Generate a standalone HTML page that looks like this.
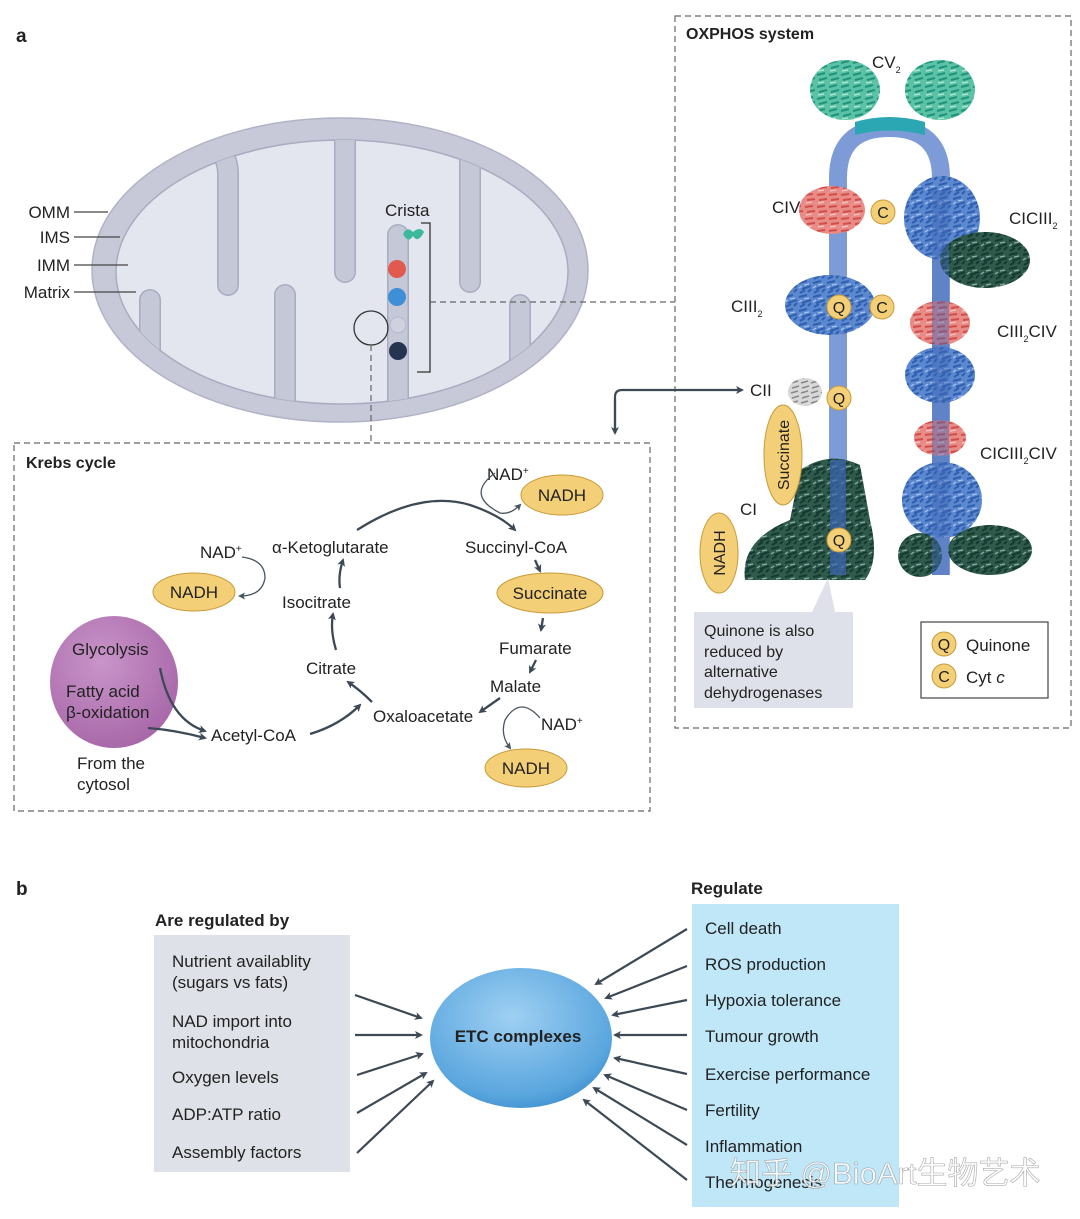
<!DOCTYPE html>
<html><head><meta charset="utf-8"><style>
html,body{margin:0;padding:0;background:#fff}
svg{display:block}
text{font-family:"Liberation Sans","Noto Sans CJK SC",sans-serif;fill:#222}
</style></head><body>
<svg width="1080" height="1219" viewBox="0 0 1080 1219" xmlns="http://www.w3.org/2000/svg">
<defs>
<marker id="ah" markerWidth="8" markerHeight="8" refX="6" refY="4" orient="auto" markerUnits="userSpaceOnUse"><path d="M0,0 L8,4 L0,8 L2,4Z" fill="#3d4a56"/></marker>
<marker id="ahs" markerWidth="7" markerHeight="7" refX="5" refY="3.5" orient="auto" markerUnits="userSpaceOnUse"><path d="M0,0 L7,3.5 L0,7 L1.5,3.5Z" fill="#4a5560"/></marker>
<pattern id="pb" width="14" height="14" patternUnits="userSpaceOnUse"><rect width="14" height="14" fill="#5b88cf"/><path d="M1,3 L9,1 M4,9 L13,6 M2,13 L7,10 M10,12 L13,9" stroke="#2f5fae" stroke-width="2"/><path d="M6,5 L11,4 M1,8 L4,6" stroke="#a8c3ec" stroke-width="1.3"/></pattern>
<pattern id="pg" width="14" height="14" patternUnits="userSpaceOnUse"><rect width="14" height="14" fill="#2f5a4c"/><path d="M1,3 L9,1 M4,9 L13,6 M2,13 L7,10 M10,12 L13,9" stroke="#153a30" stroke-width="2"/><path d="M6,5 L11,4 M1,8 L4,6" stroke="#8fb0a6" stroke-width="1.2"/></pattern>
<pattern id="pr" width="12" height="12" patternUnits="userSpaceOnUse"><rect width="12" height="12" fill="#e98b86"/><path d="M1,3 L9,2 M3,8 L11,7" stroke="#d24e4a" stroke-width="2"/><path d="M2,11 L8,10" stroke="#f6c6c2" stroke-width="1.2"/></pattern>
<pattern id="pt" width="12" height="12" patternUnits="userSpaceOnUse"><rect width="12" height="12" fill="#5cc2a6"/><path d="M1,3 L9,1 M3,8 L11,6" stroke="#1f937a" stroke-width="2"/><path d="M2,11 L8,10" stroke="#b6e8da" stroke-width="1.2"/></pattern>
<pattern id="pw" width="10" height="10" patternUnits="userSpaceOnUse"><rect width="10" height="10" fill="#d8d8d8"/><path d="M1,3 L8,1 M2,8 L9,6" stroke="#888" stroke-width="1.5"/></pattern>
<radialGradient id="etc" cx="0.45" cy="0.35" r="0.7"><stop offset="0" stop-color="#9fd0f3"/><stop offset="0.8" stop-color="#5aa6de"/><stop offset="1" stop-color="#3d8fcf"/></radialGradient>
<radialGradient id="pur" cx="0.4" cy="0.35" r="0.7"><stop offset="0" stop-color="#c995c9"/><stop offset="1" stop-color="#a766a8"/></radialGradient>
<clipPath id="mclip"><ellipse cx="342" cy="272" rx="226" ry="132"/></clipPath>
</defs>

<text x="16" y="42" font-size="19" font-weight="bold">a</text>
<text x="16" y="895" font-size="19" font-weight="bold">b</text>

<!-- Mitochondrion -->
<ellipse cx="340" cy="270" rx="248" ry="152" fill="#c7c9d8" stroke="#b0b3c6" stroke-width="1.5"/>
<ellipse cx="342" cy="272" rx="226" ry="132" fill="#e3e5ef" stroke="#a9acc0" stroke-width="1.5"/>
<g clip-path="url(#mclip)" fill="none" stroke-linecap="round">
<g stroke="#a9acc0" stroke-width="22">
<path d="M110,150 L210,150 Q228,150 228,175 L228,285"/>
<path d="M310,130 L345,130 L345,272"/>
<path d="M430,130 L470,130 L470,282"/>
<path d="M150,420 L150,300"/>
<path d="M285,420 L285,295"/>
<path d="M398,420 L398,235"/>
<path d="M520,420 L520,305"/>
</g>
<g stroke="#c5c8d7" stroke-width="19">
<path d="M110,150 L210,150 Q228,150 228,175 L228,285"/>
<path d="M310,130 L345,130 L345,272"/>
<path d="M430,130 L470,130 L470,282"/>
<path d="M150,420 L150,300"/>
<path d="M285,420 L285,295"/>
<path d="M398,420 L398,235"/>
<path d="M520,420 L520,305"/>
</g>
</g>
<path d="M403,234 Q408,244 413,236 Q418,244 424,232 Q420,226 413,232 Q407,226 403,234Z" fill="#3cb99c"/>
<circle cx="397" cy="269" r="9" fill="#e05a50"/>
<circle cx="397" cy="297" r="9" fill="#3f8fd6"/>
<circle cx="398" cy="325" r="8" fill="#cfd2de" stroke="#b5b8c8"/>
<circle cx="398" cy="351" r="9" fill="#253450"/>
<circle cx="371" cy="328" r="17" fill="none" stroke="#333" stroke-width="1.3"/>
<path d="M421,223 L430,223 L430,372 L417,372" fill="none" stroke="#333" stroke-width="1.3"/>
<text x="385" y="216" font-size="17">Crista</text>
<g font-size="17" text-anchor="end"><text x="70" y="218">OMM</text><text x="70" y="243">IMS</text><text x="70" y="271">IMM</text><text x="70" y="298">Matrix</text></g>
<g stroke="#444" stroke-width="1.2"><line x1="74" y1="212" x2="108" y2="212"/><line x1="74" y1="237" x2="120" y2="237"/><line x1="74" y1="265" x2="128" y2="265"/><line x1="74" y1="292" x2="136" y2="292"/></g>
<g stroke="#666" stroke-width="1.2" stroke-dasharray="6,4" fill="none">
<line x1="430" y1="302" x2="675" y2="302"/>
<line x1="371" y1="345" x2="371" y2="443"/>
<rect x="14" y="443" width="636" height="368"/>
<rect x="675" y="16" width="396" height="712"/>
</g>
<path d="M615,433 L615,397 Q615,390 622,390 L742,390" fill="none" stroke="#3d4a56" stroke-width="2.2" marker-end="url(#ah)"/>
<path d="M615,400 L615,433" stroke="#3d4a56" stroke-width="2.2" marker-end="url(#ah)"/>

<!-- OXPHOS -->
<text x="686" y="39" font-size="16" font-weight="bold">OXPHOS system</text>
<path d="M838,575 L838,178 Q838,128 889,128 Q941,128 941,178 L941,575" fill="none" stroke="#7d9bd6" stroke-width="18"/>
<ellipse cx="845" cy="90" rx="35" ry="30" fill="url(#pt)"/>
<ellipse cx="940" cy="90" rx="35" ry="30" fill="url(#pt)"/>
<path d="M855,122 Q889,112 925,122 L925,135 Q889,126 855,135Z" fill="#2aa7b3"/>
<text x="872" y="68" font-size="17">CV<tspan font-size="9" dy="5">2</tspan></text>
<ellipse cx="832" cy="210" rx="33" ry="24" fill="url(#pr)"/>
<text x="772" y="213" font-size="17">CIV</text>
<ellipse cx="830" cy="305" rx="45" ry="30" fill="url(#pb)"/>
<text x="731" y="312" font-size="17">CIII<tspan font-size="9" dy="5">2</tspan></text>
<ellipse cx="805" cy="392" rx="17" ry="14" fill="url(#pw)"/>
<text x="750" y="396" font-size="17">CII</text>
<path d="M800,470 Q830,450 860,465 L870,520 Q880,560 865,580 L745,580 Q740,540 790,520Z" fill="url(#pg)"/>
<rect x="830" y="460" width="16" height="115" fill="#3d67b6" opacity="0.7"/>
<text x="740" y="515" font-size="17">CI</text>
<ellipse cx="942" cy="218" rx="38" ry="42" fill="url(#pb)"/>
<ellipse cx="985" cy="260" rx="45" ry="28" fill="url(#pg)"/>
<ellipse cx="940" cy="323" rx="30" ry="22" fill="url(#pr)"/>
<ellipse cx="940" cy="375" rx="35" ry="28" fill="url(#pb)"/>
<ellipse cx="940" cy="438" rx="26" ry="18" fill="url(#pr)"/>
<ellipse cx="942" cy="500" rx="40" ry="38" fill="url(#pb)"/>
<ellipse cx="990" cy="550" rx="42" ry="25" fill="url(#pg)"/>
<ellipse cx="920" cy="555" rx="22" ry="22" fill="url(#pg)"/>
<rect x="932" y="190" width="17" height="385" fill="#3d67b6" opacity="0.45"/>
<text x="1009" y="224" font-size="17">CICIII<tspan font-size="9" dy="5">2</tspan></text>
<text x="997" y="337" font-size="17">CIII<tspan font-size="9" dy="5">2</tspan><tspan dy="-5">CIV</tspan></text>
<text x="980" y="459" font-size="17">CICIII<tspan font-size="9" dy="5">2</tspan><tspan dy="-5">CIV</tspan></text>
<g fill="#f3cf78" stroke="#c99a3a" stroke-width="1">
<circle cx="883" cy="212" r="12"/><circle cx="839" cy="307" r="12"/><circle cx="882" cy="307" r="12"/><circle cx="839" cy="398" r="12"/><circle cx="839" cy="540" r="12"/>
<ellipse cx="783" cy="455" rx="19" ry="50"/><ellipse cx="719" cy="553" rx="19" ry="40"/>
</g>
<g font-size="16" text-anchor="middle"><text x="883" y="218">C</text><text x="839" y="313">Q</text><text x="882" y="313">C</text><text x="839" y="404">Q</text><text x="839" y="546">Q</text></g>
<text transform="translate(789,455) rotate(-90)" font-size="16" text-anchor="middle">Succinate</text>
<text transform="translate(725,553) rotate(-90)" font-size="16" text-anchor="middle">NADH</text>
<path d="M694,612 L812,612 L828,578 L835,612 L853,612 L853,708 L694,708Z" fill="#dfe1ea"/>
<g font-size="16"><text x="704" y="636">Quinone is also</text><text x="704" y="657">reduced by</text><text x="704" y="677">alternative</text><text x="704" y="698">dehydrogenases</text></g>
<rect x="921" y="622" width="127" height="76" fill="#fff" stroke="#444" stroke-width="1.2"/>
<circle cx="944" cy="644" r="12" fill="#f3cf78" stroke="#c99a3a"/><circle cx="944" cy="676" r="12" fill="#f3cf78" stroke="#c99a3a"/>
<text x="944" y="650" font-size="16" text-anchor="middle">Q</text><text x="944" y="682" font-size="16" text-anchor="middle">C</text>
<text x="966" y="651" font-size="17">Quinone</text><text x="966" y="683" font-size="17">Cyt <tspan font-style="italic">c</tspan></text>

<!-- Krebs cycle -->
<text x="26" y="468" font-size="16" font-weight="bold">Krebs cycle</text>
<ellipse cx="114" cy="682" rx="64" ry="66" fill="url(#pur)"/>
<g font-size="17">
<text x="72" y="655">Glycolysis</text><text x="66" y="697">Fatty acid</text><text x="66" y="718">β-oxidation</text>
<text x="77" y="769">From the</text><text x="77" y="790">cytosol</text>
<text x="211" y="741">Acetyl-CoA</text><text x="306" y="674">Citrate</text><text x="282" y="608">Isocitrate</text>
<text x="272" y="553">α-Ketoglutarate</text><text x="465" y="553">Succinyl-CoA</text>
<text x="499" y="654">Fumarate</text><text x="490" y="692">Malate</text><text x="373" y="722">Oxaloacetate</text>
<text x="200" y="558">NAD<tspan font-size="10" dy="-6">+</tspan></text>
<text x="487" y="480">NAD<tspan font-size="10" dy="-6">+</tspan></text>
<text x="541" y="730">NAD<tspan font-size="10" dy="-6">+</tspan></text>
</g>
<g fill="#f3cf78" stroke="#c99a3a" stroke-width="1">
<ellipse cx="194" cy="592" rx="41" ry="19"/><ellipse cx="562" cy="495" rx="41" ry="20"/><ellipse cx="550" cy="593" rx="53" ry="20"/><ellipse cx="526" cy="768" rx="41" ry="19"/>
</g>
<g font-size="17" text-anchor="middle"><text x="194" y="598">NADH</text><text x="562" y="501">NADH</text><text x="550" y="599">Succinate</text><text x="526" y="774">NADH</text></g>
<g fill="none" stroke="#3d4a56" stroke-width="2.3">
<path d="M160,668 Q170,720 205,731" marker-end="url(#ah)"/>
<path d="M148,728 Q175,730 205,738" marker-end="url(#ah)"/>
<path d="M310,734 Q340,725 360,705" marker-end="url(#ah)"/>
<path d="M372,702 Q360,690 348,682" marker-end="url(#ah)"/>
<path d="M336,650 Q330,630 333,614" marker-end="url(#ah)"/>
<path d="M340,588 Q338,575 343,560" marker-end="url(#ah)"/>
<path d="M357,530 Q420,490 470,505 Q500,515 515,530" marker-end="url(#ah)"/>
<path d="M535,560 L540,571" marker-end="url(#ah)"/>
<path d="M543,618 L541,630" marker-end="url(#ah)"/>
<path d="M536,660 L530,672" marker-end="url(#ah)"/>
<path d="M500,698 Q490,705 480,712" marker-end="url(#ah)"/>
</g>
<g fill="none" stroke="#4a5560" stroke-width="1.3">
<path d="M242,557 Q265,560 265,578 Q262,596 240,596" marker-end="url(#ahs)"/>
<path d="M495,473 Q465,495 500,513 Q510,515 520,505" marker-end="url(#ahs)"/>
<path d="M540,718 Q520,695 505,720 Q500,735 510,748" marker-end="url(#ahs)"/>
</g>

<!-- Part b -->
<text x="155" y="926" font-size="17" font-weight="bold">Are regulated by</text>
<rect x="154" y="935" width="196" height="237" fill="#dfe1e8"/>
<g font-size="17">
<text x="172" y="967">Nutrient availablity</text><text x="172" y="988">(sugars vs fats)</text>
<text x="172" y="1027">NAD import into</text><text x="172" y="1048">mitochondria</text>
<text x="172" y="1083">Oxygen levels</text><text x="172" y="1120">ADP:ATP ratio</text><text x="172" y="1158">Assembly factors</text>
</g>
<text x="691" y="894" font-size="17" font-weight="bold">Regulate</text>
<rect x="692" y="904" width="207" height="303" fill="#bfe7f8"/>
<g font-size="17">
<text x="705" y="934">Cell death</text><text x="705" y="970">ROS production</text><text x="705" y="1006">Hypoxia tolerance</text>
<text x="705" y="1042">Tumour growth</text><text x="705" y="1080">Exercise performance</text><text x="705" y="1116">Fertility</text>
<text x="705" y="1152">Inflammation</text><text x="705" y="1188">Thermogenesis</text>
</g>
<ellipse cx="521" cy="1038" rx="91" ry="70" fill="url(#etc)"/>
<text x="518" y="1042" font-size="17" font-weight="bold" text-anchor="middle">ETC complexes</text>
<g stroke="#3d4a56" stroke-width="2.2" fill="none" marker-end="url(#ah)">
<line x1="355" y1="995" x2="421" y2="1018"/><line x1="355" y1="1035" x2="421" y2="1035"/><line x1="357" y1="1075" x2="422" y2="1054"/><line x1="357" y1="1113" x2="426" y2="1073"/><line x1="357" y1="1153" x2="433" y2="1081"/>
<line x1="687" y1="929" x2="596" y2="984"/><line x1="687" y1="966" x2="606" y2="998"/><line x1="687" y1="1000" x2="613" y2="1015"/><line x1="687" y1="1035" x2="615" y2="1035"/><line x1="687" y1="1074" x2="615" y2="1058"/><line x1="687" y1="1110" x2="605" y2="1075"/><line x1="687" y1="1145" x2="594" y2="1088"/><line x1="687" y1="1180" x2="584" y2="1100"/>
</g>
<text x="730" y="1184" font-size="31" style="fill:#ffffff;opacity:0.85;stroke:#999;stroke-width:0.6">知乎 @BioArt生物艺术</text>
</svg>
</body></html>
